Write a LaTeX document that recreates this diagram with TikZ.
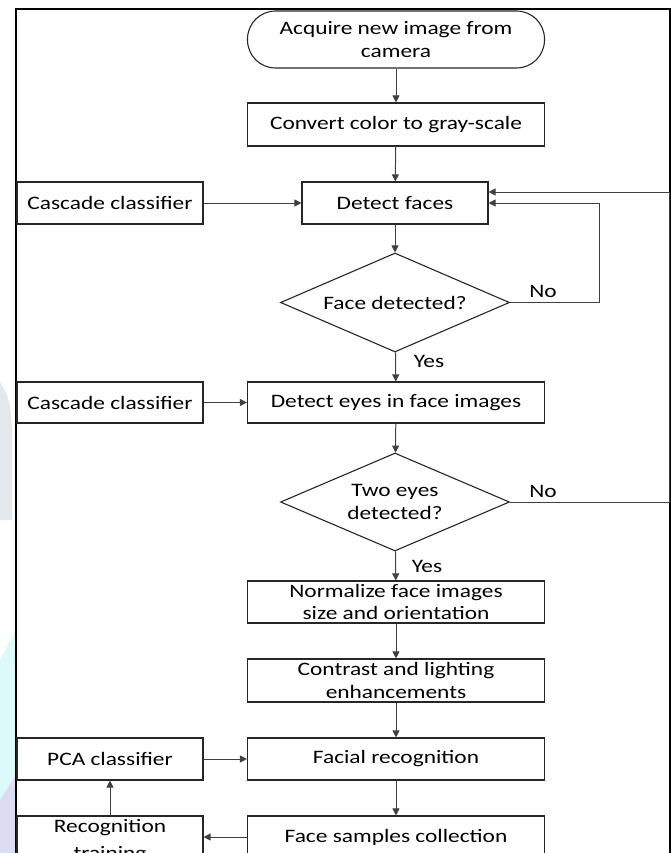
\documentclass[tikz,border=0pt]{standalone}
\usepackage{fontspec}
\setmainfont{Carlito}[FakeStretch=1.23]
\usepackage{tikz}
\usetikzlibrary{shapes,arrows,positioning,calc,arrows.meta}

\definecolor{wmgray}{HTML}{E4E8EC}
\definecolor{wmcyan}{HTML}{DCFAFA}
\definecolor{wmlav}{HTML}{DCDCF2}

\begin{document}
\begin{tikzpicture}[x=1pt,y=-1pt,
    font=\fontsize{19}{22.5}\selectfont,
    box/.style={draw=black!85, line width=1.1pt, minimum height=42pt, inner sep=1pt, align=center},
    wideblk/.style={box, minimum width=297pt},
    sideblk/.style={box, minimum width=186pt},
    decision/.style={diamond, draw=black!85, line width=1.1pt, minimum width=229pt, minimum height=99pt, aspect=2.3, inner sep=0pt, align=center},
    terminal/.style={draw=black!85, line width=1.1pt, rounded corners=28pt, minimum width=297pt, minimum height=57pt, align=center},
    flow/.style={-{Triangle[length=7pt,width=7pt]}, line width=1pt, draw=black!75},
    lbl/.style={inner sep=0pt}]
    \useasboundingbox (0,0) rectangle (671,853);
    \clip (0,0) rectangle (671,853);

    % watermark bits
    \fill[wmgray] (0,382) .. controls (10,400) .. (12,430) -- (12,520) -- (0,520) -- cycle;
    \fill[wmcyan] (0,660) -- (16,630) -- (16,853) -- (0,853) -- cycle;
    \fill[wmlav] (0,800) -- (16,775) -- (16,853) -- (0,853) -- cycle;

    % frame
    \draw[line width=2pt] (16,860) -- (16,9.5) -- (669.5,9.5) -- (669.5,860);

    % main column
    \node[terminal] (start) at (396,39.5) {Acquire new image from\\camera};
    \node[wideblk, minimum height=43pt] (gray) at (396,124.5) {Convert color to gray-scale};
    \node[sideblk] (faces) at (395,203) {Detect faces};
    \node[decision] (dec1) at (395,302.5) {Face detected?};
    \node[wideblk, minimum height=41pt] (eyes) at (396,402.5) {Detect eyes in face images};
    \node[decision, minimum height=98pt] (dec2) at (395,502) {Two eyes\\detected?};
    \node[wideblk] (norm) at (396,602) {Normalize face images\\size and orientation};
    \node[wideblk, minimum height=43pt] (contrast) at (396,680.5) {Contrast and lighting\\enhancements};
    \node[wideblk] (facial) at (396,759) {Facial recognition};
    \node[wideblk] (samples) at (396,837) {Face samples collection};

    % side boxes
    \node[sideblk] (casc1) at (110,203) {Cascade classifier};
    \node[sideblk, minimum height=41pt] (casc2) at (110,402.5) {Cascade classifier};
    \node[sideblk] (pca) at (110,759) {PCA classifier};
    \node[sideblk, minimum height=50pt] (train) at (110,841) {Recognition\\[4pt]training};

    % labels
    \node[lbl] (no1) at (543,291) {No};
    \node[lbl] (yes1) at (429,361) {Yes};
    \node[lbl] (no2) at (543,491) {No};
    \node[lbl] (yes2) at (427,566) {Yes};

    % arrows
    \draw[flow] (start) -- (gray);
    \draw[flow] (gray) -- (faces);
    \draw[flow] (casc1) -- (faces);
    \draw[flow] (faces) -- (dec1);
    \draw[flow] (dec1) -- (eyes);
    \draw[flow] (casc2) -- (eyes);
    \draw[flow] (eyes) -- (dec2);
    \draw[flow] (dec2) -- (norm);
    \draw[flow] (norm) -- (contrast);
    \draw[flow] (contrast) -- (facial);
    \draw[flow] (pca) -- (facial);
    \draw[flow] (facial) -- (samples);
    \draw[flow] (samples.west) -- (samples.west -| train.east);
    \draw[flow] (train) -- (pca);

    % loops back
    \draw[flow] (dec1.east) -- ++(89,0) |- (faces.east);
    \draw[flow] (dec2.east) -- ++(159,0) |- ([yshift=11pt]faces.east);
\end{tikzpicture}
\end{document}
